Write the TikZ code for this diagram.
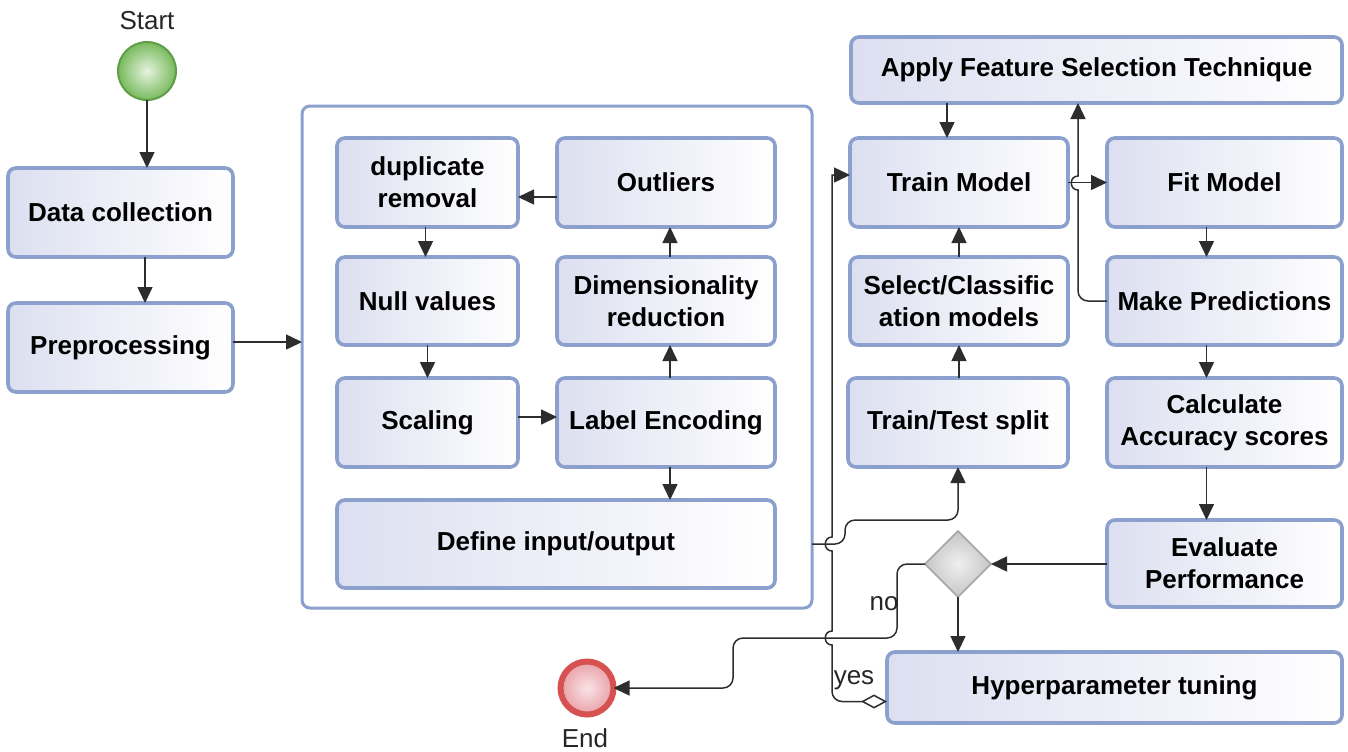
\documentclass[tikz,border=0pt]{standalone}
\usepackage{fontspec}
\setmainfont{Liberation Sans}
\usetikzlibrary{shapes.geometric,arrows.meta,calc}
\definecolor{bord}{RGB}{140,160,206}
\definecolor{boxl}{RGB}{220,223,240}
\definecolor{lnc}{RGB}{45,45,45}
\definecolor{stb}{RGB}{95,158,70}
\definecolor{stin}{RGB}{230,243,224}
\definecolor{stout}{RGB}{120,186,92}
\definecolor{endr}{RGB}{214,82,80}
\definecolor{endin}{RGB}{250,228,230}
\definecolor{endout}{RGB}{232,160,168}
\definecolor{diab}{RGB}{165,165,165}
\begin{document}
\begin{tikzpicture}[x=0.5pt,y=-0.5pt,
  box/.style={draw=bord, line width=1.8pt, rounded corners=4pt, left color=boxl, right color=white,
    align=center, font=\bfseries\fontsize{13}{16}\selectfont, inner sep=0pt, outer sep=0pt, text=black},
  arr/.style={draw=lnc, line width=0.75pt, -{Triangle[length=8pt,width=7.5pt]}},
  lbl/.style={font=\fontsize{13}{15}\selectfont, text=black!85, inner sep=0pt},
]
\useasboundingbox (0,0) rectangle (1348,751);

% start / end
\node[circle, draw=stb, line width=1pt, inner color=stin, outer color=stout, minimum size=29pt, inner sep=0pt, outer sep=0pt] (start) at (147,71) {};
\node[lbl] (startl) at (147,21) {Start};
\node[circle, draw=endr, line width=3pt, inner color=endin, outer color=endout, minimum size=26.5pt, inner sep=0pt, outer sep=0pt] (end) at (587,688) {};
\node[lbl] (endl) at (585,738) {End};

% left column
\node[box, minimum width=112.5pt, minimum height=44.5pt] (data) at (120.5,212.5) {Data collection};
\node[box, minimum width=112.5pt, minimum height=44.5pt] (prep) at (120.5,347.5) {Preprocessing};

% container
\node[draw=bord, line width=1.5pt, rounded corners=4pt, fill=white, minimum width=255pt, minimum height=251pt, inner sep=0pt, outer sep=0pt] (cont) at (557,357) {};

\node[box, minimum width=90.5pt, minimum height=44.5pt] (dup) at (427.5,182.5) {duplicate\\removal};
\node[box, minimum width=109pt, minimum height=44.5pt] (out) at (666,182.5) {Outliers};
\node[box, minimum width=90.5pt, minimum height=44pt] (null) at (427.5,301) {Null values};
\node[box, minimum width=109pt, minimum height=44pt] (dim) at (666,301) {Dimensionality\\reduction};
\node[box, minimum width=90.5pt, minimum height=44.5pt] (scal) at (427.5,422.5) {Scaling};
\node[box, minimum width=109pt, minimum height=44.5pt] (lab) at (666,422.5) {Label Encoding};
\node[box, minimum width=219pt, minimum height=44pt] (def) at (556,544) {Define input/output};

% right part
\node[box, minimum width=245.5pt, minimum height=33pt] (afs) at (1096.5,70) {Apply Feature Selection Technique};
\node[box, minimum width=109pt, minimum height=44.5pt] (train) at (959,182.5) {Train Model};
\node[box, minimum width=109pt, minimum height=44pt] (sel) at (959,301) {Select/Classific\\ation models};
\node[box, minimum width=110pt, minimum height=44.5pt] (tts) at (958,422.5) {Train/Test split};
\node[box, minimum width=117.5pt, minimum height=44.5pt] (fit) at (1224.5,182.5) {Fit Model};
\node[box, minimum width=117.5pt, minimum height=44pt] (pred) at (1224.5,301) {Make Predictions};
\node[box, minimum width=117.5pt, minimum height=44.5pt] (acc) at (1224.5,422.5) {Calculate\\Accuracy scores};
\node[box, minimum width=117.5pt, minimum height=43.5pt] (eval) at (1224.5,563.5) {Evaluate\\Performance};
\node[box, minimum width=227.5pt, minimum height=35.5pt] (hyp) at (1114.5,687.5) {Hyperparameter tuning};
\node[diamond, draw=diab, line width=0.8pt, inner color=gray!12, outer color=gray!45, minimum width=33pt, minimum height=33pt, inner sep=0pt, outer sep=0pt] (dia) at (958,564) {};

% left connectors
\draw[arr] (start.south) -- (start.south |- data.north);
\draw[arr] ([xshift=-1pt]start.south |- data.south) -- ([xshift=-1pt]start.south |- prep.north);
\draw[arr] ([yshift=2.75pt]prep.east) -- ([yshift=2.75pt]prep.east -| cont.west);

% inner connectors
\draw[arr] ([yshift=-7.25pt]out.west) -- ([yshift=-7.25pt]dup.east);
\draw[arr] ([xshift=-1pt]dup.south) -- ([xshift=-1pt]null.north);
\draw[arr] (null) -- (scal);
\draw[arr] ([yshift=2.75pt]scal.east) -- ([yshift=2.75pt]lab.west);
\draw[arr] ([xshift=2pt]lab.north) -- ([xshift=2pt]dim.south);
\draw[arr] ([xshift=2pt]dim.north) -- ([xshift=2pt]out.south);
\draw[arr] ([xshift=2pt]lab.south) -- ([xshift=2pt]lab.south |- def.north);

% right connectors
\draw[arr] ([xshift=-6pt]train.north |- afs.south) -- ([xshift=-6pt]train.north);
\draw[arr] (train) -- (fit);
\draw[arr] (sel) -- (train);
\draw[arr] (sel.south |- tts.north) -- (sel.south);
\draw[arr] ([xshift=-9pt]fit.south) -- ([xshift=-9pt]pred.north);
\draw[arr] ([xshift=-9pt]pred.south) -- ([xshift=-9pt]acc.north);
\draw[arr] ([xshift=-9pt]acc.south) -- ([xshift=-9pt]eval.north);
\draw[arr] (eval.west |- dia.east) -- (dia.east);
\draw[arr] (dia.south) -- (dia.south |- hyp.north);

% predictions -> feature selection (with hop)
\coordinate (p1) at (1078,301);
\coordinate (p2) at (1078,190);
\coordinate (p3) at (1078,176);
\draw[arr] (pred.west) [rounded corners=5pt] -- (p1) [sharp corners] -- (p2) .. controls (1069,190) and (1069,176) .. (p3) -- (p3 |- afs.south);

% define -> train/test split
\coordinate (d1) at (845,544);
\coordinate (d2) at (845,520);
\coordinate (d3) at (958,520);
\draw[arr, rounded corners=5pt] (def.east -| cont.east) -- (d1) -- (d2) -- (d3) -- (tts.south);

% decision -> end (no)
\coordinate (n1) at (897,564);
\coordinate (n2) at (897,638);
\coordinate (n3) at (733,638);
\coordinate (n4) at (733,688);
\draw[arr, rounded corners=5pt] (dia.west) -- (n1) -- (n2) -- (n3) -- (n4) -- (end.east);
\node[lbl] (nol) at (884,604) {no};

% hyperparameter -> train (yes)
\coordinate (y1) at (832,701.5);
\coordinate (y2) at (832,645);
\coordinate (y3) at (832,631);
\coordinate (y4) at (832,551);
\coordinate (y5) at (832,537);
\coordinate (y6) at (832,175);
\draw[draw=lnc, line width=0.75pt, {Diamond[open,length=13pt,width=7pt]}-{Triangle[length=8pt,width=7.5pt]}]
  ([yshift=-7pt]hyp.west) [rounded corners=5pt] -- (y1) [sharp corners] -- (y2) .. controls (823,645) and (823,631) .. (y3) -- (y4)
  .. controls (823,551) and (823,537) .. (y5) -- (y6) [rounded corners=5pt] -- ([yshift=3.75pt]train.west);
\node[lbl] (yesl) at (854,680) {yes};
\end{tikzpicture}
\end{document}
